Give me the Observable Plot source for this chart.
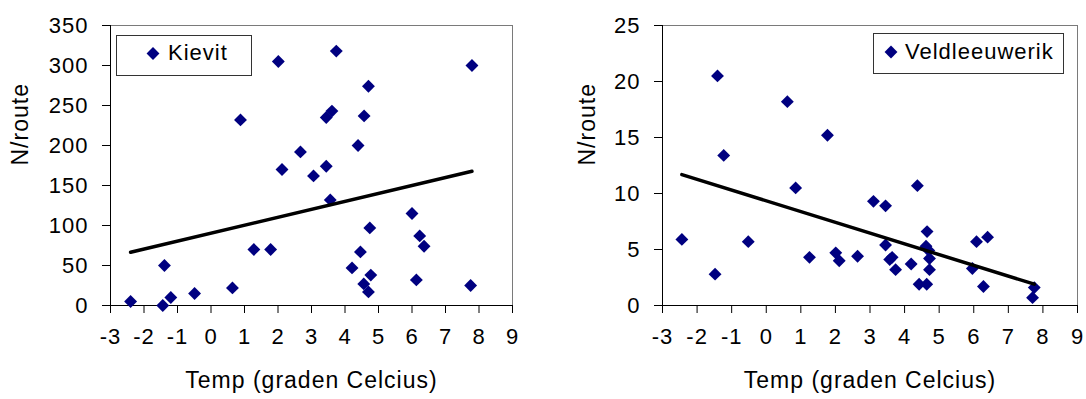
<!DOCTYPE html>
<html>
<head>
<meta charset="utf-8">
<script src="https://cdn.jsdelivr.net/npm/d3@7"></script>
<script src="https://cdn.jsdelivr.net/npm/@observablehq/plot@0.6"></script>
<style>
  html, body { margin: 0; padding: 0; background: #fff; }
  #wrap { position: relative; width: 1086px; height: 399px; display: flex; }
  #wrap svg { display: block; }
</style>
</head>
<body>
<div id="wrap"></div>
<script>
// ---- Data ----
const xTicks = [-3, -2, -1, 0, 1, 2, 3, 4, 5, 6, 7, 8, 9];
const xTitle = "Temp (graden Celcius)";
const yTitle = "N/route";

// Kievit (left chart)
const kievitName = "Kievit";
const kievitTemp = [-2.40, -1.44, -1.39, -1.20, -0.49, 0.64, 0.88, 1.28, 1.78, 2.01, 2.12, 2.67, 3.06, 3.44, 3.44, 3.56, 3.61, 3.74, 4.21, 4.39, 4.46, 4.56, 4.57, 4.70, 4.70, 4.74, 4.77, 6.00, 6.13, 6.23, 6.36, 7.75, 7.79];
const kievitCount = [5, 0, 50, 10, 15, 22, 232, 70, 70, 305, 170, 192, 162, 235, 174, 132, 243, 318, 47, 200, 67, 27, 237, 274, 17, 97, 38, 115, 32, 87, 74, 25, 300];
const kievitYTicks = [0, 50, 100, 150, 200, 250, 300, 350];

// Veldleeuwerik (right chart)
const veldName = "Veldleeuwerik";
const veldTemp = [-2.44, -1.48, -1.41, -1.23, -0.52, 0.61, 0.85, 1.25, 1.77, 2.01, 2.11, 2.64, 3.10, 3.45, 3.45, 3.57, 3.64, 3.74, 4.19, 4.37, 4.42, 4.62, 4.64, 4.65, 4.70, 4.72, 4.72, 5.96, 6.08, 6.28, 6.40, 7.70, 7.75];
const veldCount = [5.9, 2.8, 20.5, 13.4, 5.7, 18.2, 10.5, 4.3, 15.2, 4.7, 4.0, 4.4, 9.3, 8.9, 5.4, 4.1, 4.3, 3.2, 3.7, 10.7, 1.9, 5.3, 1.9, 6.6, 4.9, 4.2, 3.2, 3.3, 5.7, 1.7, 6.1, 0.7, 1.6];
const veldYTicks = [0, 5, 10, 15, 20, 25];

// ---- Styling ----
const FONT = "'Liberation Sans', Arial, sans-serif";
const FS = 22;
const NAVY = "#000080";
const DOT_R = 5.8;

function chart({temp, count, yTicks, name, marginLeft, marginRight, yTitleDx, legend}) {
  const data = temp.map((t, i) => ({t, n: count[i]}));
  const yMax = yTicks[yTicks.length - 1];
  const svg = Plot.plot({
    width: 543,
    height: 399,
    marginTop: 25,
    marginBottom: 94,
    marginLeft,
    marginRight,
    style: {fontFamily: FONT, fontSize: FS + "px", letterSpacing: "1px", color: "#000", background: "#fff", overflow: "visible"},
    x: {domain: [xTicks[0], xTicks[xTicks.length - 1]]},
    y: {domain: [0, yMax]},
    marks: [
      Plot.frame({stroke: "#7a7a7a", strokeWidth: 1}),
      Plot.ruleY([0], {stroke: "#000", strokeWidth: 1}),
      Plot.ruleX([xTicks[0]], {stroke: "#000", strokeWidth: 1}),
      Plot.axisX({ticks: xTicks, tickSize: 8, tickPadding: 15, tickFormat: d => String(d).replace("\u2212", "-"), label: null, fontSize: FS}),
      Plot.axisY({ticks: yTicks, tickSize: 8, tickPadding: 14, tickFormat: d => String(d), label: null, fontSize: FS}),
      Plot.dot(data, {x: "t", y: "n", symbol: "diamond2", r: DOT_R, fill: NAVY, stroke: "none"}),
      Plot.linearRegressionY(data, {x: "t", y: "n", stroke: "#000", strokeWidth: 3.5, ci: 0}),
      Plot.text([xTitle], {frameAnchor: "bottom", dy: 82, fontSize: FS + 1, fill: "#000"}),
      Plot.text([yTitle], {frameAnchor: "left", dx: yTitleDx, rotate: -90, fontSize: FS + 1, fill: "#000"})
    ]
  });
  // Legend box (drawn with d3 inside the same SVG)
  const g = d3.select(svg).append("g")
    .attr("font-family", FONT).attr("font-size", FS).style("letter-spacing", "1px");
  g.append("rect")
    .attr("x", legend.x + 0.5).attr("y", legend.y + 0.5)
    .attr("width", legend.w).attr("height", legend.h)
    .attr("fill", "#fff").attr("stroke", "#333").attr("stroke-width", 1);
  g.append("path")
    .attr("d", d3.symbol(d3.symbolDiamond2, Math.PI * DOT_R * DOT_R)())
    .attr("transform", `translate(${legend.sx},${legend.sy})`)
    .attr("fill", NAVY);
  g.append("text")
    .attr("x", legend.tx).attr("y", legend.ty)
    .attr("text-anchor", "start").attr("fill", "#000")
    .text(name);
  return svg;
}

const wrap = document.getElementById("wrap");
wrap.appendChild(chart({
  temp: kievitTemp, count: kievitCount, yTicks: kievitYTicks, name: kievitName,
  marginLeft: 110, marginRight: 31, yTitleDx: -90,
  legend: {x: 116, y: 35, w: 135, h: 40, sx: 153, sy: 53.5, tx: 168, ty: 60}
}));
wrap.appendChild(chart({
  temp: veldTemp, count: veldCount, yTicks: veldYTicks, name: veldName,
  marginLeft: 119, marginRight: 9, yTitleDx: -75,
  legend: {x: 873 - 543, y: 33, w: 190, h: 40, sx: 891 - 543, sy: 52, tx: 905 - 543, ty: 59}
}));
</script>
</body>
</html>
